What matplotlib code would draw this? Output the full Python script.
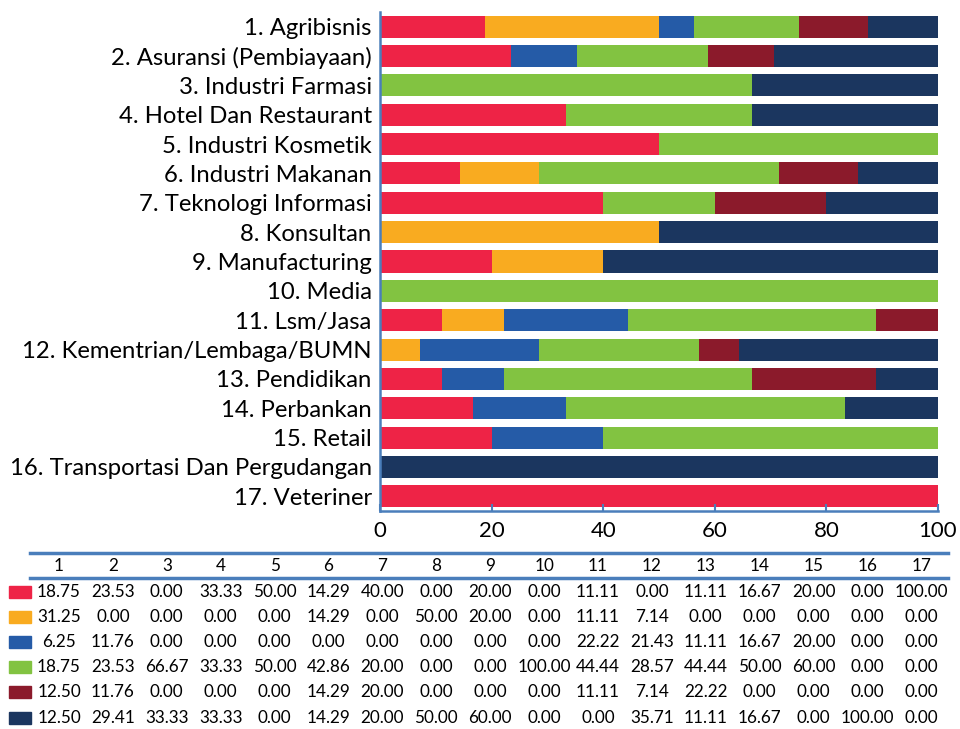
import matplotlib
matplotlib.use("Agg")
import matplotlib.pyplot as plt
from matplotlib.lines import Line2D
import numpy as np

plt.rcParams['font.family'] = ['Lato', 'DejaVu Sans']

categories = ["1. Agribisnis", "2. Asuransi (Pembiayaan)", "3. Industri Farmasi",
              "4. Hotel Dan Restaurant", "5. Industri Kosmetik", "6. Industri Makanan",
              "7. Teknologi Informasi", "8. Konsultan", "9. Manufacturing", "10. Media",
              "11. Lsm/Jasa", "12. Kementrian/Lembaga/BUMN", "13. Pendidikan",
              "14. Perbankan", "15. Retail", "16. Transportasi Dan Pergudangan",
              "17. Veteriner"]
col_labels = [str(i) for i in range(1, 18)]

s1 = [18.75, 23.53, 0.00, 33.33, 50.00, 14.29, 40.00, 0.00, 20.00, 0.00, 11.11, 0.00, 11.11, 16.67, 20.00, 0.00, 100.00]
s2 = [31.25, 0.00, 0.00, 0.00, 0.00, 14.29, 0.00, 50.00, 20.00, 0.00, 11.11, 7.14, 0.00, 0.00, 0.00, 0.00, 0.00]
s3 = [6.25, 11.76, 0.00, 0.00, 0.00, 0.00, 0.00, 0.00, 0.00, 0.00, 22.22, 21.43, 11.11, 16.67, 20.00, 0.00, 0.00]
s4 = [18.75, 23.53, 66.67, 33.33, 50.00, 42.86, 20.00, 0.00, 0.00, 100.00, 44.44, 28.57, 44.44, 50.00, 60.00, 0.00, 0.00]
s5 = [12.50, 11.76, 0.00, 0.00, 0.00, 14.29, 20.00, 0.00, 0.00, 0.00, 11.11, 7.14, 22.22, 0.00, 0.00, 0.00, 0.00]
s6 = [12.50, 29.41, 33.33, 33.33, 0.00, 14.29, 20.00, 50.00, 60.00, 0.00, 0.00, 35.71, 11.11, 16.67, 0.00, 100.00, 0.00]
series = [s1, s2, s3, s4, s5, s6]
colors = ["#EE2346", "#F9AB20", "#255BA7", "#82C341", "#8B1A2B", "#1B365F"]
xticks = [0, 20, 40, 60, 80, 100]

W, H = 960, 729
fig = plt.figure(figsize=(9.6, 7.29), dpi=100)
ax = fig.add_axes([380 / W, 1 - 511 / H, (938 - 380) / W, (511 - 12) / H])

y = np.arange(len(categories))
left = np.zeros(len(categories))
for vals, c in zip(series, colors):
    v = np.array(vals)
    ax.barh(y, v, left=left, height=0.75, color=c, edgecolor='none')
    left += v

ax.set_ylim(len(categories) - 0.5, -0.5)
ax.set_xlim(0, 100)
ax.set_yticks(y)
ax.set_yticklabels(categories, fontsize=17.2)
ax.set_xticks(xticks)
ax.set_xticklabels([str(t) for t in xticks], fontsize=16)
ax.tick_params(axis='y', length=0, pad=6)
ax.tick_params(axis='x', direction='in', length=5, color='#4A7EBB', width=1.5, pad=7)
for s in ['top', 'right']:
    ax.spines[s].set_visible(False)
for s in ['left', 'bottom']:
    ax.spines[s].set_color('#4A7EBB')
    ax.spines[s].set_linewidth(1.8)

# data table
col_x0, col_dx = 59, 53.9
def fx(px): return px / W
def fy(py): return 1 - py / H

for yy in (553, 578):
    fig.add_artist(Line2D([fx(30), fx(948)], [fy(yy), fy(yy)], color='#4A7EBB', lw=2.5))

for j, lab in enumerate(col_labels):
    fig.text(fx(col_x0 + j * col_dx), fy(566), lab, ha='center', va='center', fontsize=12.3)

row_y = [592, 617, 642, 667, 692, 718]
for i, (vals, c) in enumerate(zip(series, colors)):
    ry = row_y[i]
    fig.add_artist(plt.Rectangle((fx(9), fy(ry + 6)), fx(22), 12 / H, color=c, transform=fig.transFigure))
    for j, v in enumerate(vals):
        fig.text(fx(col_x0 + j * col_dx), fy(ry), f"{v:.2f}", ha='center', va='center', fontsize=12.3)

fig.savefig("out.png", dpi=100)
